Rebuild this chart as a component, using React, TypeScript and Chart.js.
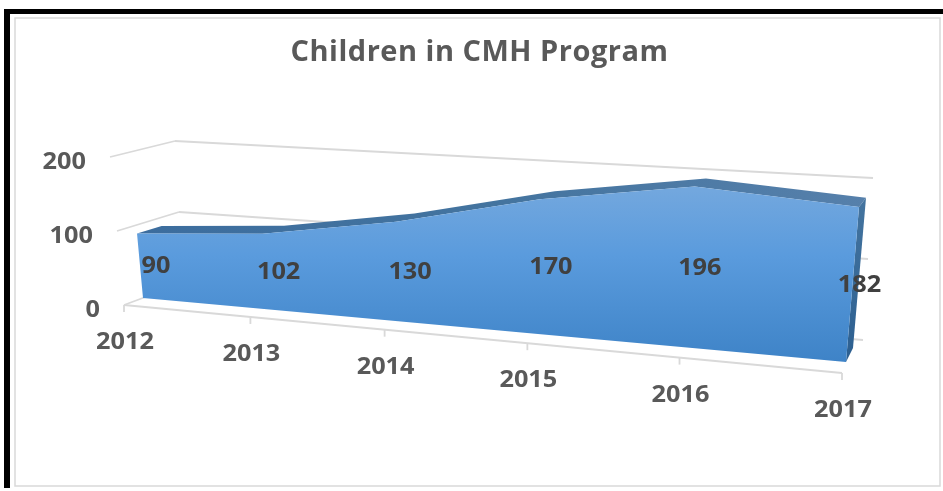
import React, { useEffect, useRef } from "react";
import { Chart, registerables } from "chart.js";

Chart.register(...registerables);

const years = ["2012", "2013", "2014", "2015", "2016", "2017"];
const children = [90, 102, 130, 170, 196, 182];
const labelNudge = [16, 14, 13, 12, 9, 7];

type Pt = [number, number];
interface Plane { b0: Pt; b1: Pt; t0: Pt; t1: Pt }
const FORESHORTEN = 1.17;
const areaFront: Plane = { b0: [143, 298], b1: [846, 362], t0: [129.7, 154.6], t1: [860.3, 191.7] };
const areaBack: Plane = { b0: [167, 289], b1: [853, 348], t0: [155, 149], t1: [867.3, 183] };
const wallBack: Plane = { b0: [183, 283], b1: [863, 340], t0: [175, 141], t1: [873, 178] };
const boxFront: Plane = { b0: [124, 305], b1: [842, 373], t0: [110, 157], t1: [858, 200] };

const lerp = (a: number, b: number, t: number) => a + (b - a) * t;
function project(p: Plane, u: number, v: number): Pt {
  const t = u / (u + FORESHORTEN * (1 - u));
  const bx = lerp(p.b0[0], p.b1[0], t), by = lerp(p.b0[1], p.b1[1], t);
  const tx = lerp(p.t0[0], p.t1[0], t), ty = lerp(p.t0[1], p.t1[1], t);
  return [lerp(bx, tx, v), lerp(by, ty, v)];
}
function poly(ctx: CanvasRenderingContext2D, pts: Pt[], fill: string | CanvasGradient) {
  ctx.beginPath();
  pts.forEach((q, i) => (i ? ctx.lineTo(q[0], q[1]) : ctx.moveTo(q[0], q[1])));
  ctx.closePath();
  ctx.fillStyle = fill;
  ctx.fill();
}
function seg(ctx: CanvasRenderingContext2D, a: Pt, b: Pt) {
  ctx.beginPath();
  ctx.moveTo(a[0], a[1]);
  ctx.lineTo(b[0], b[1]);
  ctx.stroke();
}
function text(ctx: CanvasRenderingContext2D, s: string, x: number, y: number, color: string, align: CanvasTextAlign) {
  ctx.save();
  ctx.translate(x, y);
  ctx.scale(1.1, 1);
  ctx.font = "bold 23px 'Open Sans'";
  ctx.fillStyle = color;
  ctx.textAlign = align;
  ctx.textBaseline = "middle";
  ctx.fillText(s, 0, 0);
  ctx.restore();
}

const perspective = {
  id: "perspective",
  beforeDraw(chart: any) {
    const { ctx, width, height } = chart;
    ctx.save();
    ctx.fillStyle = "#ffffff";
    ctx.fillRect(0, 0, width, height);
    ctx.fillStyle = "#000000";
    ctx.fillRect(4, 9, width - 4, 5);
    ctx.fillRect(4, 9, 6, 479);
    ctx.strokeStyle = "#d9d9d9";
    ctx.lineWidth = 1.5;
    ctx.strokeRect(15, 18, 925, 468);
    ctx.restore();
    ctx.letterSpacing = "0.5px";
  },
  beforeDatasetsDraw(chart: any) {
    const { ctx, scales } = chart;
    ctx.letterSpacing = "0px";
    const area = chart.chartArea;
    const x = scales.x, y = scales.y;
    const vOf = (val: number) => (area.bottom - y.getPixelForValue(val)) / (area.bottom - area.top);
    const uOf = (i: number) => (x.getPixelForValue(i) - area.left) / (area.right - area.left);
    ctx.save();
    ctx.strokeStyle = "#d9d9d9";
    ctx.lineWidth = 1.8;
    y.ticks.forEach((tk: any) => {
      const v = vOf(tk.value);
      seg(ctx, project(boxFront, 0, v), project(wallBack, 0, v));
      seg(ctx, project(wallBack, 0, v), project(wallBack, 1, v));
    });
    seg(ctx, project(boxFront, 0, 0), project(boxFront, 1, 0));
    x.ticks.forEach((_: any, i: number) => {
      const p = project(boxFront, uOf(i), 0);
      seg(ctx, p, [p[0], p[1] + 7]);
    });
    y.ticks.forEach((tk: any) => {
      const p = project(boxFront, 0, vOf(tk.value));
      text(ctx, String(tk.value), p[0] - 24, p[1] + 5, "#595959", "right");
    });
    x.ticks.forEach((tk: any, i: number) => {
      const p = project(boxFront, uOf(i), 0);
      text(ctx, String(tk.label), p[0] + 1, p[1] + 37.5, "#595959", "center");
    });
    ctx.restore();
  },
  beforeDatasetDraw(chart: any, args: any) {
    const { ctx } = chart;
    const area = chart.chartArea;
    const pts = args.meta.data;
    const uv = pts.map((p: any) => [
      (p.x - area.left) / (area.right - area.left),
      (area.bottom - p.y) / (area.bottom - area.top),
    ]);
    const front: Pt[] = uv.map((q: number[]) => project(areaFront, q[0], q[1]));
    const back: Pt[] = uv.map((q: number[]) => project(areaBack, q[0], q[1]));
    const last = uv[uv.length - 1];

    const band = ctx.createLinearGradient(140, 0, 866, 0);
    band.addColorStop(0, "#3c6d9e");
    band.addColorStop(0.5, "#44749f");
    band.addColorStop(1, "#5680ab");
    poly(ctx, [...front, ...back.slice().reverse()], band);

    const side = ctx.createLinearGradient(0, 200, 0, 362);
    side.addColorStop(0, "#44749f");
    side.addColorStop(1, "#2c5f90");
    poly(ctx, [front[front.length - 1], back[back.length - 1], project(areaBack, last[0], 0), project(areaFront, last[0], 0)], side);

    const face = ctx.createLinearGradient(0, 185, 0, 362);
    face.addColorStop(0, "#74a8de");
    face.addColorStop(0.4, "#5a9bdd");
    face.addColorStop(1, "#3e83c7");
    const base: Pt[] = uv.map((q: number[]) => project(areaFront, q[0], 0));
    poly(ctx, [...front, ...base.reverse()], face);
    return false;
  },
  afterDatasetsDraw(chart: any) {
    const { ctx } = chart;
    const area = chart.chartArea;
    chart.getDatasetMeta(0).data.forEach((p: any, i: number) => {
      const u = (p.x - area.left) / (area.right - area.left);
      const v = (area.bottom - p.y) / (area.bottom - area.top);
      const q = project(areaFront, u, v / 2);
      text(ctx, String(children[i]), q[0] + labelNudge[i], q[1] + 1, "#404040", "center");
    });
  },
};

export default function App() {
  const ref = useRef<HTMLCanvasElement>(null);
  useEffect(() => {
    const chart = new Chart(ref.current as HTMLCanvasElement, {
      type: "line",
      data: {
        labels: years,
        datasets: [{ label: "Children", data: children, pointRadius: 0, borderWidth: 0, fill: false, tension: 0 }],
      },
      options: {
        responsive: false,
        animation: false,
        layout: { padding: { left: 16, right: 0, top: 35, bottom: 0 } },
        plugins: {
          legend: { display: false },
          tooltip: { enabled: false },
          title: {
            display: true,
            text: "Children in CMH Program",
            color: "#595959",
            padding: 0,
            font: { family: "'Open Sans'", size: 29, weight: "bold" },
          },
        },
        scales: {
          x: { display: false },
          y: { display: false, min: 0, max: 200, ticks: { stepSize: 100 } },
        },
      },
      plugins: [perspective],
    } as any);
    return () => chart.destroy();
  }, []);
  return (
    <div style={{ position: "fixed", left: 0, top: 0, width: 943, height: 491 }}>
      <canvas ref={ref} width={943} height={491} style={{ display: "block" }} />
    </div>
  );
}
